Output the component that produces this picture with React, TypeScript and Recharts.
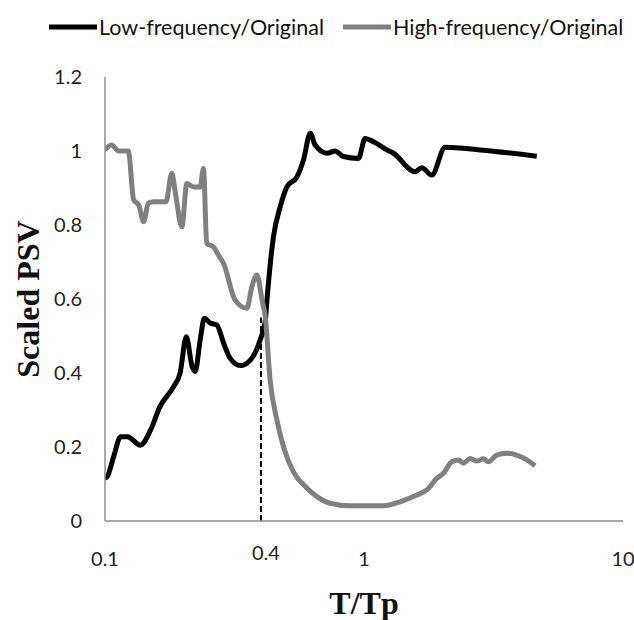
import React from "react";
import { LineChart, Line, XAxis, YAxis, Legend, ReferenceLine, Label } from "recharts";

// Low-frequency / original ratio
const lowT = [0.1, 0.102, 0.108, 0.115, 0.122, 0.137, 0.15, 0.163, 0.184, 0.195, 0.206, 0.217, 0.223, 0.233, 0.242, 0.255, 0.27, 0.287, 0.304, 0.333, 0.364, 0.397, 0.416, 0.422, 0.447, 0.475, 0.504, 0.551, 0.584, 0.62, 0.648, 0.719, 0.774, 0.833, 0.952, 1.01, 1.088, 1.225, 1.299, 1.575, 1.672, 1.827, 2.057, 2.807, 4.645];
const lowPSV = [0.116, 0.12, 0.174, 0.228, 0.228, 0.205, 0.246, 0.309, 0.363, 0.4, 0.498, 0.417, 0.404, 0.489, 0.548, 0.535, 0.53, 0.481, 0.44, 0.42, 0.435, 0.489, 0.543, 0.597, 0.768, 0.85, 0.903, 0.93, 0.976, 1.048, 1.016, 0.994, 1.0, 0.985, 0.98, 1.034, 1.025, 1.003, 0.994, 0.944, 0.955, 0.935, 1.01, 1.003, 0.986];

// High-frequency / original ratio
const highT = [0.1, 0.106, 0.113, 0.123, 0.129, 0.135, 0.141, 0.147, 0.154, 0.172, 0.181, 0.187, 0.198, 0.207, 0.22, 0.233, 0.24, 0.247, 0.262, 0.274, 0.287, 0.318, 0.353, 0.369, 0.386, 0.404, 0.416, 0.434, 0.461, 0.489, 0.534, 0.593, 0.658, 0.74, 0.884, 1.189, 1.379, 1.599, 1.748, 1.91, 2.026, 2.183, 2.315, 2.419, 2.568, 2.726, 2.89, 3.021, 3.255, 3.558, 3.889, 4.25, 4.575];
const highPSV = [1.003, 1.016, 1.0, 1.0, 0.868, 0.854, 0.809, 0.859, 0.863, 0.863, 0.94, 0.886, 0.795, 0.912, 0.903, 0.903, 0.953, 0.75, 0.741, 0.719, 0.696, 0.597, 0.575, 0.633, 0.665, 0.597, 0.55, 0.381, 0.273, 0.2, 0.133, 0.093, 0.066, 0.048, 0.041, 0.041, 0.052, 0.07, 0.084, 0.115, 0.129, 0.16, 0.165, 0.156, 0.169, 0.162, 0.168, 0.16, 0.178, 0.183, 0.178, 0.165, 0.149];

const xTicks = [0.1, 0.4, 1, 10];
const yTicks = [0, 0.2, 0.4, 0.6, 0.8, 1, 1.2];
const markerT = 0.4;
const markerTop = 0.55;

const seriesNames = ["Low-frequency/Original", "High-frequency/Original"];
const seriesColors = ["#000000", "#808080"];

const lowData = lowT.map((t, i) => ({ t, v: lowPSV[i] }));
const highData = highT.map((t, i) => ({ t, v: highPSV[i] }));

const tickFont = "Lato, 'Open Sans', sans-serif";
const titleFont = "'Liberation Serif', 'Times New Roman', serif";

const XTick = (props: any) => {
  const { x, y, payload } = props;
  const isMarker = payload.value === markerT;
  return (
    <text
      x={x + (isMarker ? 5 : 0)}
      y={y + (isMarker ? -6 : 0)}
      dy="0.71em"
      textAnchor="middle"
      fill="#222"
      fontSize={20}
      fontFamily={tickFont}
    >
      {payload.value}
    </text>
  );
};

const LegendContent = () => (
  <svg width={634} height={30}>
    {seriesNames.map((name, i) => {
      const x0 = i === 0 ? 49 : 343;
      return (
        <g key={name}>
          <line x1={x0} x2={x0 + 48} y1={15} y2={15} stroke={seriesColors[i]} strokeWidth={5} />
          <text x={x0 + 50} y={15} dy="0.35em" fontSize={21.5} fontFamily={tickFont} fill="#111">
            {name}
          </text>
        </g>
      );
    })}
  </svg>
);

export default function App() {
  return (
    <div style={{ position: "absolute", left: 0, top: 0, background: "#fff" }}>
      <LineChart width={634} height={620} margin={{ top: 47, right: 11, bottom: 0, left: 5 }}>
        <Legend
          verticalAlign="top"
          content={<LegendContent />}
          wrapperStyle={{ top: 12, left: 0, width: 634, height: 30 }}
        />
        <XAxis
          dataKey="t"
          type="number"
          scale="log"
          domain={[0.1, 10]}
          ticks={xTicks}
          allowDataOverflow
          height={99}
          tickLine={false}
          tickSize={0}
          tickMargin={31}
          tick={<XTick />}
          axisLine={{ stroke: "#8c8c8c", strokeWidth: 1.5 }}
        >
          <Label
            value="T/Tp"
            position="insideBottom"
            offset={6}
            style={{ fontFamily: titleFont, fontWeight: "bold", fontSize: 32, fill: "#111" }}
          />
        </XAxis>
        <YAxis
          type="number"
          domain={[0, 1.2]}
          ticks={yTicks}
          width={100}
          tickLine={false}
          tickSize={0}
          tickMargin={23}
          tick={{ fontSize: 20, fontFamily: tickFont, fill: "#222" }}
          axisLine={{ stroke: "#8c8c8c", strokeWidth: 1.5 }}
        >
          <Label
            value="Scaled PSV"
            angle={-90}
            position="insideLeft"
            offset={23}
            style={{ fontFamily: titleFont, fontWeight: "bold", fontSize: 32, fill: "#111", textAnchor: "middle" }}
          />
        </YAxis>
        <ReferenceLine
          segment={[
            { x: markerT, y: 0 },
            { x: markerT, y: markerTop },
          ]}
          stroke="#000"
          strokeWidth={2}
          strokeDasharray="6 3"
        />
        <Line
          data={lowData}
          dataKey="v"
          type="monotone"
          stroke={seriesColors[0]}
          strokeWidth={5}
          dot={false}
          isAnimationActive={false}
        />
        <Line
          data={highData}
          dataKey="v"
          type="monotone"
          stroke={seriesColors[1]}
          strokeWidth={5}
          dot={false}
          isAnimationActive={false}
        />
      </LineChart>
    </div>
  );
}
